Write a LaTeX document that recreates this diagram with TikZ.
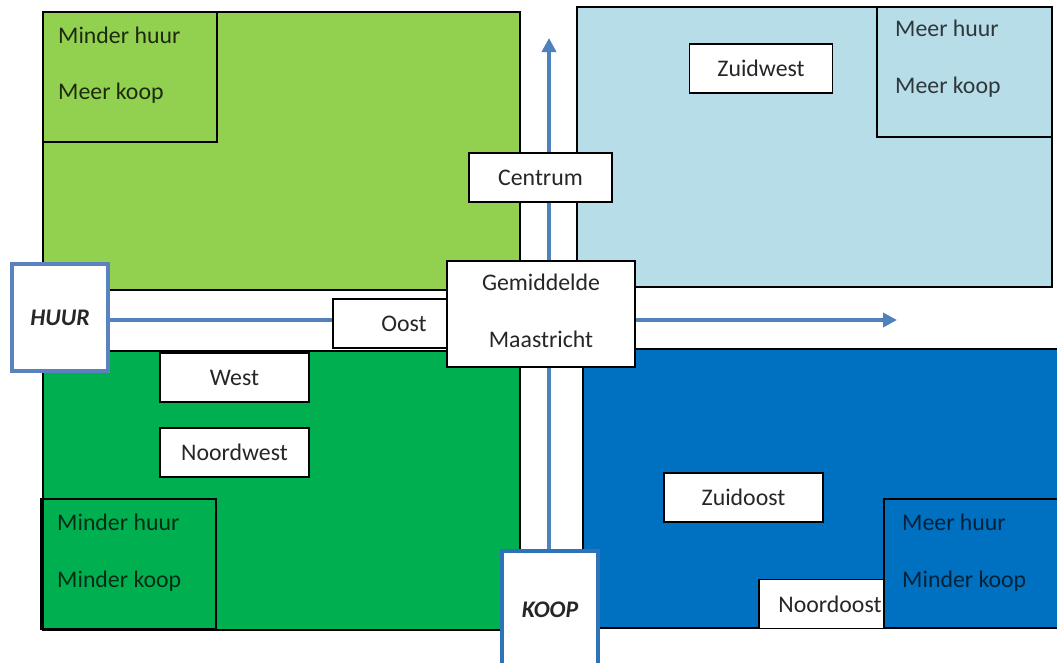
\documentclass[tikz,border=0pt]{standalone}
\usepackage{fontspec}
\setmainfont{Carlito}
\usetikzlibrary{arrows.meta}
\definecolor{lgreen}{HTML}{92D050}
\definecolor{lblue}{HTML}{B7DDE8}
\definecolor{dgreen}{HTML}{00B050}
\definecolor{dblue}{HTML}{0070C0}
\definecolor{axiscol}{HTML}{4F81BD}
\definecolor{huurblue}{HTML}{5A82BE}
\definecolor{koopblue}{HTML}{2E72B8}
\begin{document}
\begin{tikzpicture}[x=1pt,y=-1pt,
  quad/.style={draw=black,line width=1.3pt},
  lbl/.style={anchor=base west,inner sep=0pt,font=\fontsize{23.8}{28}\selectfont},
  region/.style={draw=black,line width=1.3pt,fill=white,inner sep=0pt,minimum height=49pt,
    font=\fontsize{23.8}{28}\selectfont,text=black!85},
  axisbox/.style={line width=4pt,fill=white,inner sep=0pt,minimum width=96pt,
    font=\fontsize{23.8}{28}\selectfont\bfseries\itshape,text=black!85},
  axisarrow/.style={draw=axiscol,line width=4pt,-{Triangle[length=14pt,width=14pt]}}
]
\useasboundingbox (0,0) rectangle (1057,662);
\fill[white] (0,0) rectangle (1057,662);

% quadrants
\draw[quad,fill=lgreen] (43,12) rectangle (520,290);
\draw[quad,fill=lblue] (577,7) rectangle (1052,287);
\draw[quad,fill=dgreen] (43,351) rectangle (520,630);
\draw[quad,fill=dblue] (583,349) rectangle (1062,628);

% corner boxes
\draw[quad] (43,12) rectangle (217,142);
\draw[quad] (877,7) rectangle (1052,137);
\draw[quad] (41,499) rectangle (216,629);

% Noordoost (partly under the corner box)
\node[region,minimum width=142pt] (noordoost) at (830,604) {Noordoost};
\draw[quad,fill=dblue] (884,499) rectangle (1062,628);

% corner texts
\node[lbl,text=lgreen!20!black] (tl1) at (58,43) {Minder huur};
\node[lbl,text=lgreen!20!black] (tl2) at (58,99) {Meer koop};
\node[lbl,text=lblue!25!black] (tr1) at (895,36) {Meer huur};
\node[lbl,text=lblue!25!black] (tr2) at (895,93) {Meer koop};
\node[lbl,text=dgreen!25!black] (bl1) at (57,530) {Minder huur};
\node[lbl,text=dgreen!25!black] (bl2) at (57,587) {Minder koop};
\node[lbl,text=dblue!30!black] (br1) at (902,530) {Meer huur};
\node[lbl,text=dblue!30!black] (br2) at (902,587) {Minder koop};

% axis boxes
\node[axisbox,draw=huurblue,minimum height=107pt] (huur) at (60,317.5) {HUUR};
\node[axisbox,draw=koopblue,minimum height=118pt] (koop) at (550,610) {KOOP};

% axes
\coordinate (htip) at (897,320);
\coordinate (vtip) at (549,38);
\draw[axisarrow] (huur.east |- htip) -- (htip);
\draw[axisarrow] (vtip |- koop.north) -- (vtip);

% region boxes
\node[region,minimum width=143pt] (zuidwest) at (761,68.5) {Zuidwest};
\node[region,minimum width=143pt] (centrum) at (540.5,177.5) {Centrum};
\node[region,minimum width=142pt] (oost) at (404,323.5) {Oost};
\node[region,minimum width=149pt] (west) at (234.5,377.5) {West};
\node[region,minimum width=149pt] (noordwest) at (234.5,452.5) {Noordwest};
\node[region,minimum width=159pt] (zuidoost) at (743.5,497.5) {Zuidoost};
\node[region,minimum width=188pt,minimum height=106pt] (gem) at (541,314) {};
\node[lbl,anchor=base,text=black!85] (gem1) at (541,290) {Gemiddelde};
\node[lbl,anchor=base,text=black!85] (gem2) at (541,347) {Maastricht};
\end{tikzpicture}
\end{document}
